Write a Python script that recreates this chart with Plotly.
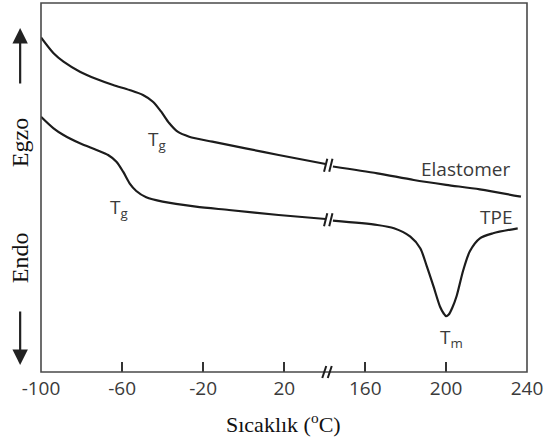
import plotly.graph_objects as go

# ---------------- data (temperature in °C, heat-flow in arbitrary units) ----------
elast_left_T = [-100, -93.8, -88.9, -80.8, -72.6, -64.4, -56.3, -49.7, -44.8, -40.7,
                -36.7, -32.6, -26.9, -15.5, 0.9, 17.2, 40.4]
elast_left_y = [334.5, 318.7, 310.3, 300.3, 293, 287, 282, 277, 270.3, 260.3,
                248.7, 240.3, 235.3, 230.3, 223.7, 217, 208]
elast_right_T = [144, 166, 184, 200, 216.7, 237]
elast_right_y = [205.5, 198.7, 192, 187.2, 182.7, 175.3]

tpe_left_T = [-100, -93.8, -88.9, -80.8, -72.6, -66.9, -62.8, -59.5, -56.3, -53,
              -48.1, -40, -23.6, -7.3, 17.2, 40.4]
tpe_left_y = [255.3, 243.7, 237, 228.7, 222, 217, 210.3, 200.3, 188.7, 181,
              174.7, 170.3, 165.3, 162, 157, 153]
tpe_right_T = [144, 166, 174.2, 182.3, 187.2, 190.5, 193.8, 197, 198.8, 200,
               201.3, 203, 205.2, 208.5, 211.8, 216.7, 223.2, 235.4]
tpe_right_y = [151.3, 147, 143.7, 135.3, 123.7, 105.3, 85.3, 65.3, 58.5, 55.8,
               57.5, 64, 76, 102, 121, 133.7, 138.7, 143.7]

left_ticks = [-100, -60, -20, 20]
right_ticks = [160, 200, 240]
left_range = [-100, 41.2]
right_range = [141.2, 240]
split = 0.589

ink = "#1c1c1c"
frame_col = "#4a4a4a"
txt_col = "#3a3a3a"
sans = "Open Sans"
serif = "Liberation Serif"

fig = go.Figure()
line = dict(color=ink, width=2.2, shape="spline", smoothing=0.8)
fig.add_trace(go.Scatter(x=elast_left_T, y=elast_left_y, mode="lines", line=line,
                         xaxis="x", yaxis="y", showlegend=False, hoverinfo="skip"))
fig.add_trace(go.Scatter(x=elast_right_T, y=elast_right_y, mode="lines", line=line,
                         xaxis="x2", yaxis="y", showlegend=False, hoverinfo="skip"))
fig.add_trace(go.Scatter(x=tpe_left_T, y=tpe_left_y, mode="lines", line=line,
                         xaxis="x", yaxis="y", showlegend=False, hoverinfo="skip"))
fig.add_trace(go.Scatter(x=tpe_right_T, y=tpe_right_y, mode="lines", line=line,
                         xaxis="x2", yaxis="y", showlegend=False, hoverinfo="skip"))

axis_common = dict(showgrid=False, zeroline=False, showline=False, ticks="inside",
                   ticklen=10, tickwidth=1.5, tickcolor="#333",
                   tickfont=dict(family=sans, size=19, color=txt_col),
                   ticklabelstandoff=3, ticklabeloverflow="allow", fixedrange=True)
fig.update_layout(
    width=546, height=439,
    margin=dict(l=41, r=15, t=3, b=67),
    paper_bgcolor="white", plot_bgcolor="white",
    xaxis=dict(domain=[0, split], range=left_range, tickvals=left_ticks,
               ticktext=[str(v) for v in left_ticks], anchor="y", **axis_common),
    xaxis2=dict(domain=[split, 1], range=right_range, tickvals=right_ticks,
                ticktext=[str(v) for v in right_ticks], anchor="y", **axis_common),
    yaxis=dict(range=[0, 369], showticklabels=False, ticks="", showgrid=False,
               zeroline=False, showline=False, fixedrange=True),
)

shapes = [dict(type="rect", xref="paper", yref="paper", x0=0, x1=1, y0=0, y1=1,
               line=dict(color=frame_col, width=1.6))]

# break marks on the curves (anchored at the axis break)
for ly, ry in [(elast_left_y[-1], elast_right_y[0]), (tpe_left_y[-1], tpe_right_y[0])]:
    yb = (ly + ry) / 2
    for dx in (-3.2, 2.0):
        shapes.append(dict(type="line", xref="paper", yref="y", xsizemode="pixel",
                           ysizemode="pixel", xanchor=split, yanchor=yb,
                           x0=dx, x1=dx + 3.2, y0=-6.5, y1=6.5,
                           line=dict(color=ink, width=2)))
# break marks on the x axis
for dx in (-5, 0.5):
    shapes.append(dict(type="line", xref="paper", yref="paper", xsizemode="pixel",
                       ysizemode="pixel", xanchor=split, yanchor=0,
                       x0=dx, x1=dx + 4, y0=-6, y1=6,
                       line=dict(color=ink, width=2)))
fig.update_layout(shapes=shapes)

lab_font = dict(family=sans, size=19, color=txt_col)
ann = [
    dict(x=-43, y=232, xref="x", yref="y", text="T<sub>g</sub>", showarrow=False, font=lab_font),
    dict(x=-61.7, y=164, xref="x", yref="y", text="T<sub>g</sub>", showarrow=False, font=lab_font),
    dict(x=202.8, y=34, xref="x2", yref="y", text="T<sub>m</sub>", showarrow=False, font=lab_font),
    dict(x=209.6, y=203.5, xref="x2", yref="y", text="Elastomer", showarrow=False, font=lab_font),
    dict(x=224.5, y=155.3, xref="x2", yref="y", text="TPE", showarrow=False, font=lab_font),
    dict(x=0.498, y=-0.138, xref="paper", yref="paper", xanchor="center", yanchor="middle",
         text="Sıcaklık (<sup>o</sup>C)",
         showarrow=False, font=dict(family=serif, size=22, color="#111")),
    dict(x=-0.0429, y=0.6206, xref="paper", yref="paper", xanchor="center", yanchor="middle",
         text="Egzo", textangle=-90,
         showarrow=False, font=dict(family=serif, size=24, color="#111")),
    dict(x=-0.0429, y=0.309, xref="paper", yref="paper", xanchor="center", yanchor="middle",
         text="Endo", textangle=-90,
         showarrow=False, font=dict(family=serif, size=24, color="#111")),
    dict(x=-0.0429, y=0.932, xref="paper", yref="paper", text="", showarrow=True,
         ax=0, ay=57, arrowhead=2, arrowsize=1.4, arrowwidth=2.2, arrowcolor="#222"),
    dict(x=-0.0429, y=0.019, xref="paper", yref="paper", text="", showarrow=True,
         ax=0, ay=-55, arrowhead=2, arrowsize=1.4, arrowwidth=2.2, arrowcolor="#222"),
]
fig.update_layout(annotations=ann)

fig.write_html("out.html")
